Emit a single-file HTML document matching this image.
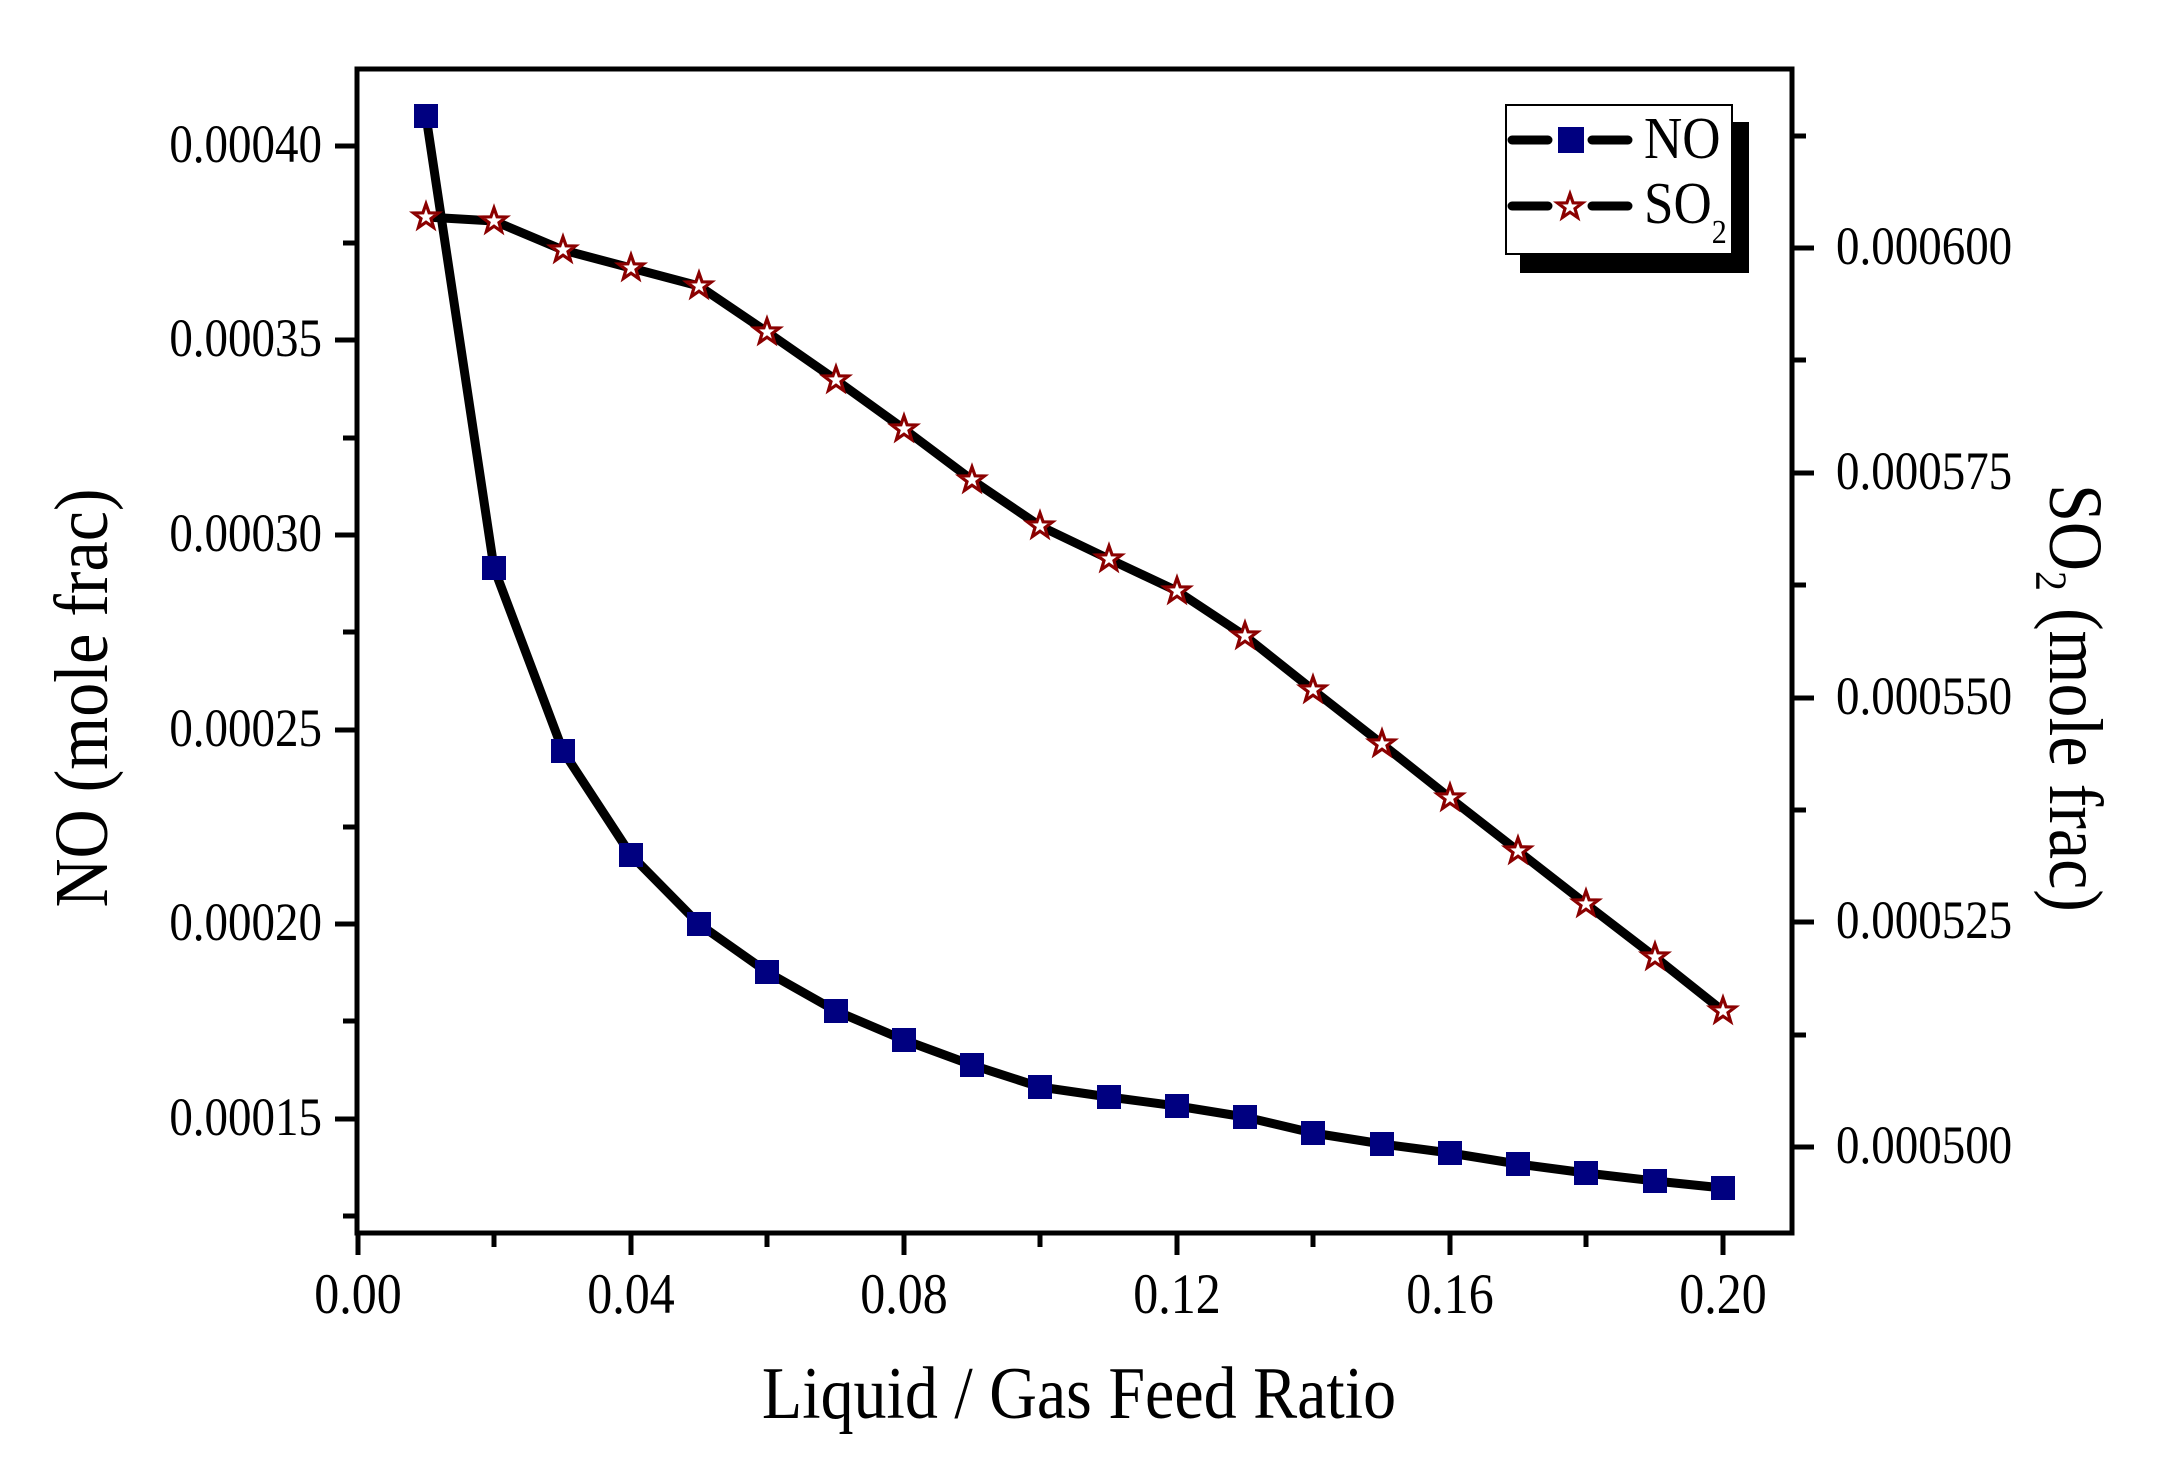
<!DOCTYPE html>
<html><head><meta charset="utf-8"><style>
html,body{margin:0;padding:0;background:#fff;}
svg{display:block;font-family:"Liberation Serif",serif;}
</style></head><body>
<svg width="2158" height="1462" viewBox="0 0 2158 1462" xmlns="http://www.w3.org/2000/svg">
<defs>
<polygon id="st" points="0,-13 3.1,-4.2 12.4,-4 5,1.6 7.6,10.5 0,5.2 -7.6,10.5 -5,1.6 -12.4,-4 -3.1,-4.2" fill="#fff" stroke="#8b0000" stroke-width="3.2"/>
</defs>
<g stroke="#000" stroke-width="5" fill="none">
<rect x="357" y="69" width="1435" height="1164"/>
<path d="M357 146h-22M357 340h-22M357 535h-22M357 730h-22M357 924h-22M357 1119h-22M357 243h-14M357 438h-14M357 632h-14M357 827h-14M357 1021h-14M357 1216h-14"/>
<path d="M1792 248h22M1792 473h22M1792 698h22M1792 922h22M1792 1147h22M1792 136h14M1792 360h14M1792 585h14M1792 810h14M1792 1035h14"/>
<path d="M358 1233v22M631 1233v22M904 1233v22M1177 1233v22M1450 1233v22M1723 1233v22M494 1233v14M767 1233v14M1040 1233v14M1313 1233v14M1586 1233v14"/>
</g>
<g font-size="47" fill="#000" text-anchor="end">
<text transform="translate(322,162) scale(1,1.15)">0.00040</text>
<text transform="translate(322,356) scale(1,1.15)">0.00035</text>
<text transform="translate(322,551) scale(1,1.15)">0.00030</text>
<text transform="translate(322,746) scale(1,1.15)">0.00025</text>
<text transform="translate(322,940) scale(1,1.15)">0.00020</text>
<text transform="translate(322,1135) scale(1,1.15)">0.00015</text>
</g>
<g font-size="47" fill="#000">
<text transform="translate(1836,264) scale(1,1.15)">0.000600</text>
<text transform="translate(1836,489) scale(1,1.15)">0.000575</text>
<text transform="translate(1836,714) scale(1,1.15)">0.000550</text>
<text transform="translate(1836,938) scale(1,1.15)">0.000525</text>
<text transform="translate(1836,1163) scale(1,1.15)">0.000500</text>
</g>
<g font-size="50" fill="#000" text-anchor="middle">
<text transform="translate(358,1313) scale(1,1.15)">0.00</text>
<text transform="translate(631,1313) scale(1,1.15)">0.04</text>
<text transform="translate(904,1313) scale(1,1.15)">0.08</text>
<text transform="translate(1177,1313) scale(1,1.15)">0.12</text>
<text transform="translate(1450,1313) scale(1,1.15)">0.16</text>
<text transform="translate(1723,1313) scale(1,1.15)">0.20</text>
</g>
<text transform="translate(1079,1418) scale(1,1.12)" font-size="66" text-anchor="middle">Liquid / Gas Feed Ratio</text>
<text transform="translate(107,698) rotate(-90) scale(1,1.12)" font-size="68" text-anchor="middle">NO (mole frac)</text>
<text transform="translate(2050,698) rotate(90) scale(1,1.12)" font-size="68" text-anchor="middle">SO<tspan font-size="40" dy="12">2</tspan><tspan dy="-12"> (mole frac)</tspan></text>
<polyline fill="none" stroke="#000" stroke-width="9" stroke-linejoin="round" points="426,116 494,568 563,751 631,855 699,924 767,972 836,1011 904,1040 972,1065 1040,1087 1109,1097 1177,1106 1245,1117 1313,1133 1382,1144 1450,1153 1518,1164 1586,1173 1655,1181 1723,1188"/>
<polyline fill="none" stroke="#000" stroke-width="9" stroke-linejoin="round" points="426,217 494,221 563,250 631,268 699,286 767,332 836,380 904,429 972,480 1040,526 1109,559 1177,591 1245,636 1313,690 1382,744 1450,798 1518,851 1586,904 1655,957 1723,1011"/>
<g fill="#000080">
<rect x="414" y="104" width="24" height="24"/><rect x="482" y="556" width="24" height="24"/><rect x="551" y="739" width="24" height="24"/><rect x="619" y="843" width="24" height="24"/><rect x="687" y="912" width="24" height="24"/><rect x="755" y="960" width="24" height="24"/><rect x="824" y="999" width="24" height="24"/><rect x="892" y="1028" width="24" height="24"/><rect x="960" y="1053" width="24" height="24"/><rect x="1028" y="1075" width="24" height="24"/><rect x="1097" y="1085" width="24" height="24"/><rect x="1165" y="1094" width="24" height="24"/><rect x="1233" y="1105" width="24" height="24"/><rect x="1301" y="1121" width="24" height="24"/><rect x="1370" y="1132" width="24" height="24"/><rect x="1438" y="1141" width="24" height="24"/><rect x="1506" y="1152" width="24" height="24"/><rect x="1574" y="1161" width="24" height="24"/><rect x="1643" y="1169" width="24" height="24"/><rect x="1711" y="1176" width="24" height="24"/>
</g>
<g>
<use href="#st" x="426" y="217"/><use href="#st" x="494" y="221"/><use href="#st" x="563" y="250"/><use href="#st" x="631" y="268"/><use href="#st" x="699" y="286"/><use href="#st" x="767" y="332"/><use href="#st" x="836" y="380"/><use href="#st" x="904" y="429"/><use href="#st" x="972" y="480"/><use href="#st" x="1040" y="526"/><use href="#st" x="1109" y="559"/><use href="#st" x="1177" y="591"/><use href="#st" x="1245" y="636"/><use href="#st" x="1313" y="690"/><use href="#st" x="1382" y="744"/><use href="#st" x="1450" y="798"/><use href="#st" x="1518" y="851"/><use href="#st" x="1586" y="904"/><use href="#st" x="1655" y="957"/><use href="#st" x="1723" y="1011"/>
</g>
<rect x="1520" y="122" width="229" height="151" fill="#000"/>
<rect x="1506" y="105" width="226" height="149" fill="#fff" stroke="#000" stroke-width="2"/>
<g stroke="#000" stroke-width="9" stroke-linecap="round">
<path d="M1512 140h36M1592 140h36M1512 206h36M1592 206h36"/>
</g>
<rect x="1558" y="127" width="26" height="26" fill="#000080"/>
<use href="#st" x="1570" y="207"/>
<text transform="translate(1644,158) scale(1,1.12)" font-size="53">NO</text>
<text transform="translate(1644,223) scale(1,1.12)" font-size="53">SO<tspan font-size="30" dy="18">2</tspan></text>
</svg>
</body></html>
